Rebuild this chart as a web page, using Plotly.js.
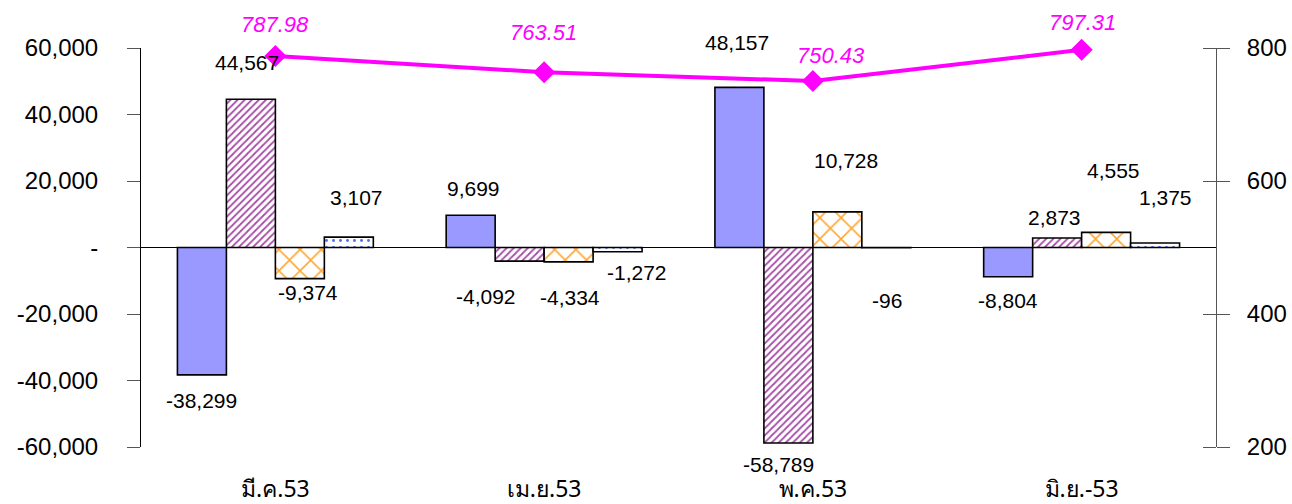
<!DOCTYPE html>
<html>
<head>
<meta charset="utf-8">
<script src="https://cdn.plot.ly/plotly-3.0.1.min.js"></script>
<style>html,body{margin:0;padding:0;background:#fff}#chart{width:1292px;height:504px}</style>
</head>
<body>
<div id="chart"></div>
<script>
// ---- data ----
const categories = ['มี.ค.53', 'เม.ย.53', 'พ.ค.53', 'มิ.ย.-53'];
const series1 = [-38299, 9699, 48157, -8804];
const series2 = [44567, -4092, -58789, 2873];
const series3 = [-9374, -4334, 10728, 4555];
const series4 = [3107, -1272, -96, 1375];
const lineValues = [787.98, 763.51, 750.43, 797.31];
const leftTicks = [-60000, -40000, -20000, 0, 20000, 40000, 60000];
const leftTickText = ['-60,000', '-40,000', '-20,000', '-', '20,000', '40,000', '60,000'];
const rightTicks = [200, 400, 600, 800];

// label offsets in pixels (dx, dy) relative to bar end / marker
const barLabelShift = [
  [[0, -26], [-4, 37], [8, -14], [8, 40]],
  [[3, 27], [-34, -35], [1, -36], [19, -21]],
  [[-2, 45], [-10, -22], [9, 51], [1, -53]],
  [[0, -24], [-3, 20], [7, 62], [10, 45]]
];
const lineLabelShift = [[0, 31], [-1, 40], [18, 25], [1, 27]];

const allSeries = [series1, series2, series3, series4];
const barGap = 0.271;
const barW = (1 - barGap) / 4;
const outline = {color: '#000', width: 1.6};

const traces = [
  {type: 'bar', x: categories, y: series1, marker: {color: '#9999FF', line: outline}},
  {type: 'bar', x: categories, y: series2, marker: {color: '#ffffff', line: outline,
     pattern: {shape: '/', fgcolor: '#A64CA6', bgcolor: '#ffffff', size: 5, solidity: 0.35}}},
  {type: 'bar', x: categories, y: series3, marker: {color: '#ffffff', line: outline,
     pattern: {shape: 'x', fgcolor: '#FFA630', bgcolor: '#ffffff', size: 15, solidity: 0.2}}},
  {type: 'bar', x: categories, y: series4, marker: {color: '#ffffff', line: outline,
     pattern: {shape: '.', fgcolor: '#4F6FE8', bgcolor: '#ffffff', size: 7, solidity: 0.14}}},
  {type: 'scatter', mode: 'lines+markers', x: categories, y: lineValues, yaxis: 'y2', cliponaxis: false,
     line: {color: '#FF00FF', width: 4}, marker: {symbol: 'diamond', size: 17, color: '#FF00FF'}},
  {type: 'scatter', mode: 'markers', x: [null], y: [null], yaxis: 'y3'}
];
traces.forEach(t => { t.showlegend = false; t.hoverinfo = 'skip'; });

const annotations = [];
allSeries.forEach((s, j) => {
  s.forEach((v, i) => {
    const sh = barLabelShift[i][j];
    annotations.push({
      x: i + (j - 1.5) * barW, y: v, xref: 'x', yref: 'y',
      text: v.toLocaleString('en-US'), showarrow: false,
      xshift: sh[0], yshift: sh[1],
      font: {family: 'Liberation Sans, Arial, sans-serif', size: 21, color: '#000'}
    });
  });
});
lineValues.forEach((v, i) => {
  const sh = lineLabelShift[i];
  annotations.push({
    x: i, y: v, xref: 'x', yref: 'y2', text: v.toFixed(2), showarrow: false,
    xshift: sh[0], yshift: sh[1],
    font: {family: 'Liberation Sans, Arial, sans-serif', size: 22, color: '#FF00FF', style: 'italic'}
  });
});

const layout = {
  width: 1292, height: 504,
  margin: {l: 141, r: 76, t: 48, b: 57},
  paper_bgcolor: '#fff', plot_bgcolor: 'rgba(0,0,0,0)',
  barmode: 'group', bargap: barGap, bargroupgap: 0,
  showlegend: false,
  font: {family: 'Liberation Sans, Arial, sans-serif', color: '#000'},
  xaxis: {type: 'category', showline: false, ticks: '', showgrid: false, zeroline: false,
    tickfont: {size: 23, family: 'Noto Sans, DejaVu Sans, sans-serif'}, ticklabelstandoff: 26},
  xaxis2: {type: 'linear', overlaying: 'x', anchor: 'free', position: 0.5, range: [-0.5, 3.5],
    tickvals: [0.5, 1.5, 2.5], ticks: 'outside', ticklen: 6, tickcolor: '#000',
    showticklabels: false, showline: false, showgrid: false, zeroline: false},
  yaxis: {range: [-60000, 60000], tickvals: leftTicks, ticktext: leftTickText,
    showline: true, linecolor: '#000', linewidth: 1, ticks: 'outside', ticklen: 13, tickcolor: '#555',
    showgrid: false, zeroline: true, zerolinecolor: '#000', zerolinewidth: 1,
    tickfont: {size: 24}, ticklabelstandoff: 24},
  yaxis2: {range: [200, 800], tickvals: rightTicks, overlaying: 'y', side: 'right',
    showline: true, linecolor: '#555', linewidth: 1, ticks: 'outside', ticklen: 13, tickcolor: '#555',
    showgrid: false, zeroline: false, tickfont: {size: 24}, ticklabelstandoff: 12},
  yaxis3: {range: [200, 800], tickvals: rightTicks, overlaying: 'y', side: 'left',
    anchor: 'free', position: 1,
    ticks: 'outside', ticklen: 13, tickcolor: '#555', showticklabels: false,
    showline: false, showgrid: false, zeroline: false},
  annotations: annotations
};

Plotly.newPlot('chart', traces, layout, {staticPlot: true, displayModeBar: false});
</script>
</body>
</html>
